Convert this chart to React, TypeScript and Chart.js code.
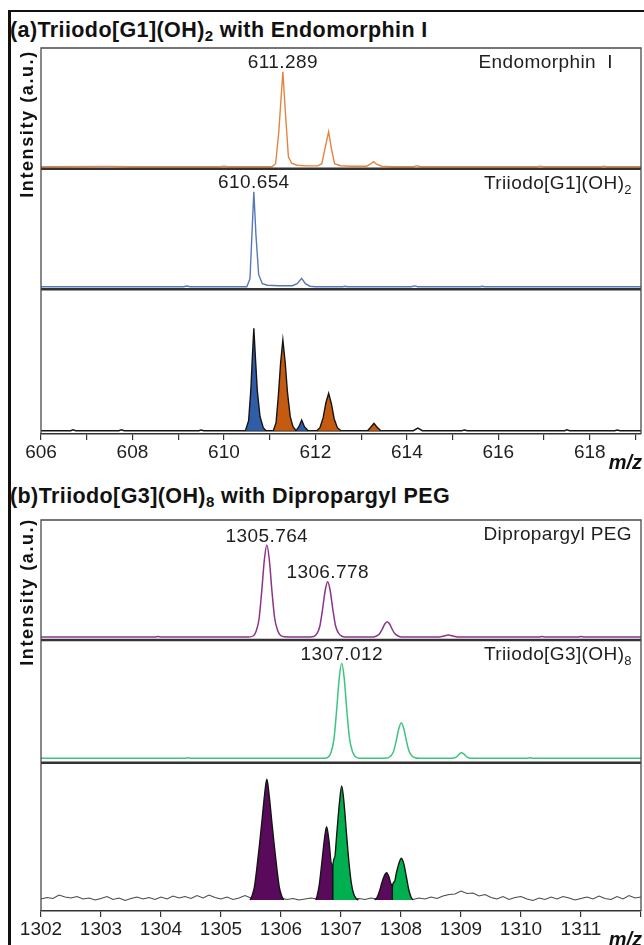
import React, { useEffect, useRef } from "react";
import { Chart, registerables } from "chart.js";

Chart.register(...registerables);

type P = [number, number | null];

const FONT = '"Liberation Sans", Arial, Helvetica, sans-serif';

// ---------------- Panel (a): Triiodo[G1](OH)2 with Endomorphin I ----------------
const aMzMin = 606;
const aMzMax = 619.12;
const aLabelStep = 2;
const aLastLabel = 618;

const aEndoName = "Endomorphin  I";
const aEndoPeakMz = 611.289;
const aEndoPeakI = 95;
const aEndomorphin: P[] = [
  [606, 0], [607.5, 0.3], [608, 0], [609.9, 0], [610, 0.4], [610.1, 0],
  [611.05, 0], [611.13, 3], [611.2, 35], [611.289, 95], [611.35, 50], [611.41, 10], [611.48, 3.5],
  [611.6, 1.5], [611.8, 0.8], [612.05, 0.8], [612.14, 3], [612.21, 18], [612.29, 35], [612.35, 18],
  [612.42, 3], [612.55, 1], [612.8, 0.5], [613.12, 0.5], [613.2, 2.5], [613.27, 5], [613.34, 2.5],
  [613.45, 0.5], [613.7, 0], [614.15, 0], [614.22, 1], [614.3, 0], [616.85, 0], [616.92, 0.6],
  [617, 0], [618.25, 0], [618.3, 0.6], [618.38, 0], [619.12, 0],
];

const aTriName = "Triiodo[G1](OH)";
const aTriSub = "2";
const aTriPeakMz = 610.654;
const aTriPeakI = 95;
const aTriiodo: P[] = [
  [606, 0], [609.12, 0], [609.19, 0.7], [609.26, 0], [610.5, 0], [610.57, 8], [610.62, 60],
  [610.654, 95], [610.7, 52], [610.76, 12], [610.84, 3], [610.95, 1.5], [611.2, 1], [611.5, 1],
  [611.6, 3], [611.7, 8.4], [611.78, 3], [611.88, 0.5], [612, 0], [612.6, 0], [612.65, 0.5],
  [612.7, 0], [614.1, 0], [614.17, 0.8], [614.24, 0], [615.6, 0], [615.65, 0.5], [615.7, 0], [619.12, 0],
];

const aMixBlue: P[] = [
  [610.47, 0], [610.54, 10], [610.59, 42], [610.62, 72], [610.654, 102.4], [610.69, 72],
  [610.73, 40], [610.79, 14], [610.86, 3], [610.92, 0], [610.95, null],
  [611.58, 0], [611.64, 4], [611.7, 10.7], [611.76, 4], [611.84, 0],
];
const aMixOrange: P[] = [
  [611.08, 0], [611.14, 8], [611.19, 35], [611.24, 68], [611.289, 90.7], [611.34, 68],
  [611.39, 38], [611.45, 14], [611.51, 4], [611.58, 0], [611.6, null],
  [612.03, 0], [612.1, 3], [612.17, 13], [612.23, 28], [612.29, 37.4], [612.35, 27],
  [612.41, 12], [612.48, 3], [612.56, 0], [612.6, null],
  [613.14, 0], [613.2, 3], [613.28, 7.4], [613.35, 3.5], [613.43, 0],
];
const aMixTrace: P[] = [
  [606, 0], [606.65, 0], [606.7, 0.8], [606.76, 0], [607.7, 0], [607.76, 0.8], [607.82, 0],
  [609.45, 0], [609.5, 0.6], [609.56, 0], [614.14, 0], [614.24, 2.5], [614.34, 0], [615.2, 0],
  [615.26, 0.7], [615.32, 0], [617.45, 0], [617.5, 0.8], [617.56, 0], [618.55, 0], [618.6, 0.6],
  [618.66, 0], [619.12, 0],
];

// ---------------- Panel (b): Triiodo[G3](OH)8 with Dipropargyl PEG ----------------
const bMzMin = 1302;
const bMzMax = 1312;
const bLabelStep = 1;
const bLastLabel = 1311;

const bPegName = "Dipropargyl PEG";
const bPegPeak1Mz = 1305.764;
const bPegPeak1I = 92;
const bPegPeak2Mz = 1306.778;
const bPegPeak2I = 55.3;
const bPeg: P[] = [
  [1302, 0], [1303.9, 0], [1303.95, 0.5], [1304, 0], [1305.46, 0],
  [1305.534, 1], [1305.584, 5.5], [1305.634, 18], [1305.679, 46], [1305.724, 78], [1305.764, 92],
  [1305.804, 78], [1305.849, 46], [1305.894, 19], [1305.944, 6.5], [1305.994, 1.5], [1306.06, 0.3],
  [1306.4, 0], [1306.548, 0.6], [1306.598, 3.3], [1306.648, 11], [1306.693, 28], [1306.738, 47],
  [1306.778, 55.3], [1306.818, 47], [1306.863, 28], [1306.908, 11.5], [1306.958, 4], [1307.008, 1],
  [1307.07, 0], [1307.54, 0], [1307.59, 1], [1307.64, 3], [1307.685, 7.5], [1307.73, 13],
  [1307.77, 15.3], [1307.81, 13], [1307.855, 7.5], [1307.9, 3.2], [1307.95, 1], [1308.01, 0],
  [1308.62, 0], [1308.7, 0.8], [1308.79, 2], [1308.88, 0.8], [1308.96, 0],
  [1310.3, 0], [1310.35, 0.5], [1310.4, 0], [1310.95, 0], [1311, 0.6], [1311.05, 0], [1312, 0],
];

const bTriName = "Triiodo[G3](OH)";
const bTriSub = "8";
const bTriPeakMz = 1307.012;
const bTriPeakI = 95;
const bTriiodo: P[] = [
  [1302, 0], [1304.4, 0], [1304.45, 0.5], [1304.5, 0], [1306.72, 0],
  [1306.782, 1], [1306.832, 5.5], [1306.882, 19], [1306.927, 48], [1306.972, 81], [1307.012, 95],
  [1307.052, 81], [1307.097, 48], [1307.142, 20], [1307.192, 6.5], [1307.242, 1.5], [1307.31, 0],
  [1307.775, 0.4], [1307.825, 2], [1307.875, 6.8], [1307.92, 17.5], [1307.965, 30], [1308.005, 35.6],
  [1308.045, 30], [1308.09, 17.5], [1308.135, 7], [1308.185, 2.3], [1308.235, 0.5], [1308.3, 0],
  [1308.85, 0], [1308.92, 1.2], [1308.97, 4.2], [1309.01, 5.6], [1309.05, 4.2], [1309.1, 1.2],
  [1309.17, 0], [1310.1, 0], [1310.15, 0.5], [1310.2, 0], [1312, 0],
];

const bMixPeg: P[] = [
  [1305.484, 0], [1305.514, 3.6], [1305.554, 12], [1305.594, 30], [1305.639, 54], [1305.684, 80],
  [1305.724, 104], [1305.764, 120.7], [1305.804, 104], [1305.844, 80], [1305.889, 54],
  [1305.934, 30], [1305.974, 12], [1306.014, 3.6], [1306.044, 0], [1306.1, null],
  [1306.58, 0], [1306.6, 3.7], [1306.64, 16], [1306.68, 37], [1306.72, 59], [1306.76, 73.3],
  [1306.8, 59], [1306.84, 37], [1306.86, 30], [1306.861, 0], [1307, null],
  [1307.56, 0], [1307.6, 2.5], [1307.64, 8.5], [1307.68, 17], [1307.72, 24], [1307.76, 27.3],
  [1307.8, 23], [1307.835, 16], [1307.855, 13], [1307.856, 0],
];
const bMixTriiodo: P[] = [
  [1306.86, 0], [1306.861, 30], [1306.892, 42], [1306.932, 68], [1306.972, 96], [1307.012, 114],
  [1307.052, 96], [1307.092, 66], [1307.132, 38], [1307.172, 17], [1307.212, 6], [1307.26, 1],
  [1307.29, 0], [1307.4, null],
  [1307.855, 0], [1307.856, 13], [1307.887, 18], [1307.927, 28], [1307.967, 37], [1308.007, 41.7],
  [1308.047, 36], [1308.087, 24], [1308.127, 11], [1308.167, 3], [1308.2, 0],
];
// measured noisy trace of the mixture, sampled every 0.1 m/z from 1302
const bNoiseStartMz = 1302;
const bNoiseStepMz = 0.1;
const bNoise: number[] = [
  1.0, 2.5, 1.5, 5.0, 3.0, 2.0, 3.5, 1.0, 2.0, 0.0,
  1.5, 3.5, 0.5, 2.0, -0.5, 1.5, 3.0, 1.0, 2.5, 0.5,
  3.0, 1.0, 4.0, 2.0, 3.5, 1.5, 4.5, 2.0, 5.0, 2.5,
  1.0, 3.0, 0.5, 2.0, 4.5, 2.0, 1.5, 1.0, 1.5, 1.0,
  2.0, 0.5, 1.5, 0.0, 1.0, 2.0, 1.0, 1.0, 1.0, 1.0,
  1.0, 1.0, 1.0, 1.5, 0.5, 2.0, 1.0, 1.0, 1.0, 1.0,
  1.0, 1.0, 0.5, 2.0, 1.0, 3.0, 1.5, 4.0, 5.5, 6.0,
  9.0, 6.5, 7.0, 4.0, 5.5, 2.5, 1.0, 3.5, 0.5, 2.5,
  3.5, 1.0, -0.5, 2.0, 0.5, 3.0, 1.0, 3.5, 2.0, 0.0,
  1.5, 3.0, 1.0, 4.0, 1.5, 0.5, 3.5, 1.0, 4.5, 2.0,
  3.0,
];

// ---------------- colours ----------------
const ORANGE_LINE = "#E4843F";
const BLUE_LINE = "#5677B8";
const ORANGE_FILL = "#C55A11";
const BLUE_FILL = "#2F5DA6";
const PURPLE_LINE = "#8B348B";
const GREEN_LINE = "#3DC57D";
const PURPLE_FILL = "#5A0A5A";
const GREEN_FILL = "#00B050";
const OUTLINE = "#141414";

function pts(arr: P[]) {
  return arr.map(([x, y]) => ({ x, y }));
}

function lineDs(data: P[], color: string, width: number, yAxisID: string, smooth: boolean) {
  return {
    data: pts(data),
    borderColor: color,
    borderWidth: width,
    pointRadius: 0,
    pointHoverRadius: 0,
    fill: false,
    tension: 0,
    cubicInterpolationMode: smooth ? "monotone" : "default",
    yAxisID,
    spanGaps: false,
  };
}

function fillDs(data: P[], color: string, yAxisID: string, smooth: boolean) {
  return { ...lineDs(data, OUTLINE, 1.4, yAxisID, smooth), fill: "origin", backgroundColor: color };
}

type Part = { t: string; sub?: boolean };
type PanelSpec = {
  id: string;
  min: number;
  max: number;
  weight: number;
  datasets: any[];
  peakLabels: { mz: number; value: number; text: string }[];
  label: Part[];
  labelPad: number;
};
type Spec = {
  xMin: number;
  xMax: number;
  labelStep: number;
  lastLabel: number;
  xAxisHeight: number;
  padding: { left: number; right: number; top: number; bottom: number };
  panels: PanelSpec[];
};

function drawRich(ctx: CanvasRenderingContext2D, parts: Part[], right: number, baseline: number) {
  const mainFont = `19px ${FONT}`;
  const subFont = `13px ${FONT}`;
  let total = 0;
  const widths = parts.map((p) => {
    ctx.font = p.sub ? subFont : mainFont;
    const w = ctx.measureText(p.t).width;
    total += w;
    return w;
  });
  let x = right - total;
  ctx.textAlign = "left";
  parts.forEach((p, i) => {
    ctx.font = p.sub ? subFont : mainFont;
    ctx.fillText(p.t, x, baseline + (p.sub ? 5 : 0));
    x += widths[i];
  });
}

function decor(spec: Spec) {
  return {
    id: "decor",
    afterDraw(chart: any) {
      const { ctx, chartArea: ca, scales } = chart;
      const xs = scales.x;
      ctx.save();
      // separators between stacked sub-panels
      ctx.strokeStyle = "#333";
      ctx.lineWidth = 2.4;
      spec.panels.slice(0, -1).forEach((p) => {
        const s = scales[p.id];
        ctx.beginPath();
        ctx.moveTo(ca.left, s.bottom);
        ctx.lineTo(ca.right, s.bottom);
        ctx.stroke();
      });
      // frame
      ctx.strokeStyle = "#4a4a4a";
      ctx.lineWidth = 1.3;
      ctx.beginPath();
      ctx.moveTo(ca.left, ca.bottom);
      ctx.lineTo(ca.left, ca.top);
      ctx.lineTo(ca.right, ca.top);
      ctx.lineTo(ca.right, ca.bottom);
      ctx.stroke();
      // labels
      ctx.fillStyle = "#1e1e1e";
      ctx.textBaseline = "alphabetic";
      (ctx as any).letterSpacing = "0.4px";
      spec.panels.forEach((p) => {
        const ys = scales[p.id];
        ctx.font = `19px ${FONT}`;
        ctx.textAlign = "center";
        p.peakLabels.forEach((l) => {
          ctx.fillText(l.text, xs.getPixelForValue(l.mz), ys.getPixelForValue(l.value) - 3.5);
        });
        drawRich(ctx, p.label, ca.right - p.labelPad, ys.top + 20);
      });
      (ctx as any).letterSpacing = "0px";
      ctx.font = `italic bold 20px ${FONT}`;
      ctx.textAlign = "right";
      ctx.textBaseline = "middle";
      ctx.fillStyle = "#111";
      ctx.fillText("m/z", ca.right + 1, ca.bottom + 29);
      ctx.restore();
    },
  };
}

function buildChart(canvas: HTMLCanvasElement, spec: Spec) {
  const scales: any = {
    x: {
      type: "linear",
      position: "bottom",
      min: spec.xMin,
      max: spec.xMax,
      bounds: "data",
      ticks: {
        stepSize: 1,
        autoSkip: false,
        includeBounds: false,
        maxRotation: 0,
        minRotation: 0,
        padding: 1,
        color: "#1e1e1e",
        font: { family: FONT, size: 19 },
        callback: (v: any) => {
          const n = Math.round(Number(v));
          return n % spec.labelStep === 0 && n <= spec.lastLabel ? String(n) : "";
        },
      },
      grid: { drawOnChartArea: false, drawTicks: true, tickLength: 6, color: "#333", lineWidth: 1.2 },
      border: { display: true, color: "#333", width: 1.5 },
      afterFit: (s: any) => {
        s.height = spec.xAxisHeight;
      },
    },
  };
  [...spec.panels].reverse().forEach((p) => {
    scales[p.id] = {
      type: "linear",
      position: "left",
      stack: "panels",
      stackWeight: p.weight,
      min: p.min,
      max: p.max,
      bounds: "data",
      ticks: { display: false },
      grid: { display: false, drawTicks: false },
      border: { display: false },
      afterFit: (s: any) => {
        s.width = 0;
      },
    };
  });
  const datasets: any[] = [];
  spec.panels.forEach((p) => p.datasets.forEach((d) => datasets.push(d)));
  return new Chart(canvas, {
    type: "line",
    data: { datasets },
    options: {
      responsive: false,
      animation: false,
      devicePixelRatio: 1,
      events: [],
      layout: { padding: spec.padding },
      plugins: { legend: { display: false }, tooltip: { enabled: false }, title: { display: false } },
      scales,
    } as any,
    plugins: [decor(spec)],
  });
}

const specA: Spec = {
  xMin: aMzMin,
  xMax: aMzMax,
  labelStep: aLabelStep,
  lastLabel: aLastLabel,
  xAxisHeight: 40,
  padding: { left: 41, right: 3, top: 8, bottom: 6 },
  panels: [
    {
      id: "y1",
      min: -2,
      max: 118.7,
      weight: 120.7,
      datasets: [lineDs(aEndomorphin, ORANGE_LINE, 1.4, "y1", false)],
      peakLabels: [{ mz: aEndoPeakMz, value: aEndoPeakI, text: aEndoPeakMz.toFixed(3) }],
      label: [{ t: aEndoName }],
      labelPad: 28,
    },
    {
      id: "y2",
      min: -2.6,
      max: 118,
      weight: 120.6,
      datasets: [lineDs(aTriiodo, BLUE_LINE, 1.4, "y2", false)],
      peakLabels: [{ mz: aTriPeakMz, value: aTriPeakI, text: aTriPeakMz.toFixed(3) }],
      label: [{ t: aTriName }, { t: aTriSub, sub: true }],
      labelPad: 9,
    },
    {
      id: "y3",
      min: -3.3,
      max: 141.4,
      weight: 144.7,
      datasets: [
        fillDs(aMixBlue, BLUE_FILL, "y3", false),
        fillDs(aMixOrange, ORANGE_FILL, "y3", false),
        lineDs(aMixTrace, OUTLINE, 1.5, "y3", false),
      ],
      peakLabels: [],
      label: [],
      labelPad: 9,
    },
  ],
};

const specB: Spec = {
  xMin: bMzMin,
  xMax: bMzMax,
  labelStep: bLabelStep,
  lastLabel: bLastLabel,
  xAxisHeight: 34,
  padding: { left: 41, right: 3, top: 8, bottom: 0 },
  panels: [
    {
      id: "y1",
      min: -3,
      max: 117,
      weight: 120,
      datasets: [lineDs(bPeg, PURPLE_LINE, 1.5, "y1", true)],
      peakLabels: [
        { mz: bPegPeak1Mz, value: bPegPeak1I, text: bPegPeak1Mz.toFixed(3) },
        { mz: bPegPeak2Mz, value: bPegPeak2I, text: bPegPeak2Mz.toFixed(3) },
      ],
      label: [{ t: bPegName }],
      labelPad: 9,
    },
    {
      id: "y2",
      min: -4.4,
      max: 118.3,
      weight: 122.7,
      datasets: [lineDs(bTriiodo, GREEN_LINE, 1.5, "y2", true)],
      peakLabels: [{ mz: bTriPeakMz, value: bTriPeakI, text: bTriPeakMz.toFixed(3) }],
      label: [{ t: bTriName }, { t: bTriSub, sub: true }],
      labelPad: 9,
    },
    {
      id: "y3",
      min: -11,
      max: 137.3,
      weight: 148.3,
      datasets: [
        fillDs(bMixPeg, PURPLE_FILL, "y3", true),
        fillDs(bMixTriiodo, GREEN_FILL, "y3", true),
        lineDs(
          bNoise.map((v, i) => [bNoiseStartMz + i * bNoiseStepMz, v] as P),
          "#4a4a4a",
          1.1,
          "y3",
          false
        ),
      ],
      peakLabels: [],
      label: [],
      labelPad: 9,
    },
  ],
};

const titleStyle: React.CSSProperties = {
  position: "absolute",
  left: 10,
  fontFamily: FONT,
  fontWeight: 700,
  fontSize: 21.5,
  lineHeight: "22px",
  letterSpacing: 0.4,
  color: "#111",
  whiteSpace: "nowrap",
};
const subStyle: React.CSSProperties = { fontSize: 15, verticalAlign: "-4px", lineHeight: "10px" };

const yTitleStyle = (cy: number): React.CSSProperties => ({
  position: "absolute",
  left: 27 - 100,
  top: cy - 10,
  width: 200,
  height: 20,
  lineHeight: "20px",
  textAlign: "center",
  transform: "rotate(-90deg)",
  fontFamily: FONT,
  fontWeight: 700,
  fontSize: 18,
  letterSpacing: 1.6,
  color: "#111",
  whiteSpace: "nowrap",
});

export default function App() {
  const aRef = useRef<HTMLCanvasElement>(null);
  const bRef = useRef<HTMLCanvasElement>(null);
  useEffect(() => {
    const ca = buildChart(aRef.current as HTMLCanvasElement, specA);
    const cb = buildChart(bRef.current as HTMLCanvasElement, specB);
    return () => {
      ca.destroy();
      cb.destroy();
    };
  }, []);
  return (
    <div
      style={{
        position: "absolute",
        left: 0,
        top: 0,
        width: 644,
        height: 945,
        background: "#fff",
        overflow: "hidden",
      }}
    >
      <div style={{ position: "absolute", left: 8, top: 10, width: 2.5, height: 935, background: "#111" }} />
      <div style={{ position: "absolute", left: 8, top: 10, width: 636, height: 2, background: "#111" }} />
      <div style={{ ...titleStyle, top: 19 }}>
        (a)Triiodo[G1](OH)<span style={subStyle}>2</span> with Endomorphin I
      </div>
      <canvas
        ref={aRef}
        width={644}
        height={440}
        style={{ position: "absolute", left: 0, top: 40, width: 644, height: 440, display: "block" }}
      />
      <div style={{ ...titleStyle, top: 484.5 }}>
        (b)Triiodo[G3](OH)<span style={subStyle}>8</span> with Dipropargyl PEG
      </div>
      <canvas
        ref={bRef}
        width={644}
        height={433}
        style={{ position: "absolute", left: 0, top: 512, width: 644, height: 433, display: "block" }}
      />
      <div style={yTitleStyle(124)}>Intensity (a.u.)</div>
      <div style={yTitleStyle(592)}>Intensity (a.u.)</div>
    </div>
  );
}
